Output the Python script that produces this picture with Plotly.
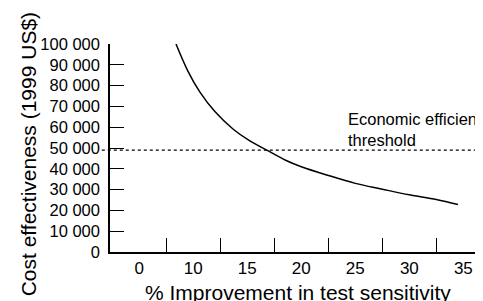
import plotly.graph_objects as go

# ---- data ----
improvement = [8.4, 9.5, 10.6, 12.0, 13.7, 15.2, 16.8, 18.6, 20.0, 22.5, 25.0, 27.5, 30.0, 32.5, 34.5]
cost_eff = [100000, 87000, 77000, 67500, 59000, 53500, 49000, 44000, 41000, 36800, 33000, 30200, 27500, 25200, 22800]
threshold = 49000

y_tick_vals = [0, 10000, 20000, 30000, 40000, 50000, 60000, 70000, 80000, 90000, 100000]
y_tick_text = ["0", "10 000", "20 000", "30 000", "40 000", "50 000", "60 000", "70 000", "80 000", "90 000", "100 000"]
x_label_vals = [5, 10, 15, 20, 25, 30, 35]
x_label_text = ["0", "10", "15", "20", "25", "30", "35"]
x_tick_marks = [7.5, 12.5, 17.5, 22.5, 27.5, 32.5]

FONT = "Liberation Sans, Arial, Helvetica, sans-serif"
x_range = [2.29, 36.82]

fig = go.Figure()
fig.add_trace(go.Scatter(x=improvement, y=cost_eff, mode="lines",
                         line=dict(color="black", width=1.5, shape="spline", smoothing=1.0),
                         cliponaxis=False, showlegend=False, hoverinfo="skip"))
# carrier trace so the label axis is drawn
fig.add_trace(go.Scatter(x=x_label_vals, y=[None] * len(x_label_vals), xaxis="x2",
                         mode="lines", showlegend=False, hoverinfo="skip"))

fig.add_shape(type="line", xref="paper", yref="y", x0=-0.022, x1=1.0, y0=threshold, y1=threshold,
              line=dict(color="black", width=1.2, dash="dot"))

fig.add_annotation(text="Economic efficiency<br>threshold", xref="paper", yref="y",
                   x=0.636, y=threshold, xanchor="left", yanchor="bottom", align="left",
                   showarrow=False, borderpad=0, font=dict(family=FONT, size=16.5, color="black"))

# axis titles
fig.add_annotation(text="Cost effectiveness (1999 US$)", xref="paper", yref="paper",
                   x=-0.219, y=0.471, xanchor="center", yanchor="middle", textangle=-90,
                   showarrow=False, font=dict(family=FONT, size=21, color="black"))
fig.add_annotation(text="% Improvement in test sensitivity", xref="paper", yref="paper",
                   x=0.503, y=-0.193, xanchor="center", yanchor="middle",
                   showarrow=False, font=dict(family=FONT, size=21, color="black"))

fig.update_layout(
    width=475, height=293,
    margin=dict(l=102, r=0, t=36, b=49, autoexpand=False),
    paper_bgcolor="white", plot_bgcolor="white",
    font=dict(family=FONT, color="black"),
    showlegend=False,
    xaxis=dict(range=x_range, showgrid=False, zeroline=False, automargin=False,
               showline=True, linecolor="black", linewidth=1.5,
               tickmode="array", tickvals=x_tick_marks, showticklabels=False,
               ticks="inside", ticklen=14, tickcolor="black", tickwidth=1),
    xaxis2=dict(range=x_range, overlaying="x", matches="x", anchor="y", side="bottom",
                showgrid=False, zeroline=False, showline=False, automargin=False,
                tickmode="array", tickvals=x_label_vals, ticktext=x_label_text,
                ticks="", tickfont=dict(family=FONT, size=17, color="black"),
                ticklabelstandoff=4),
    yaxis=dict(range=[0, 100000], showgrid=False, zeroline=False, automargin=False,
               showline=True, linecolor="black", linewidth=1.5,
               tickmode="array", tickvals=y_tick_vals, ticktext=y_tick_text,
               ticks="inside", ticklen=14, tickcolor="black", tickwidth=1,
               tickfont=dict(family=FONT, size=16.5, color="black"),
               ticklabelstandoff=5),
)

fig.write_html("out.html")
